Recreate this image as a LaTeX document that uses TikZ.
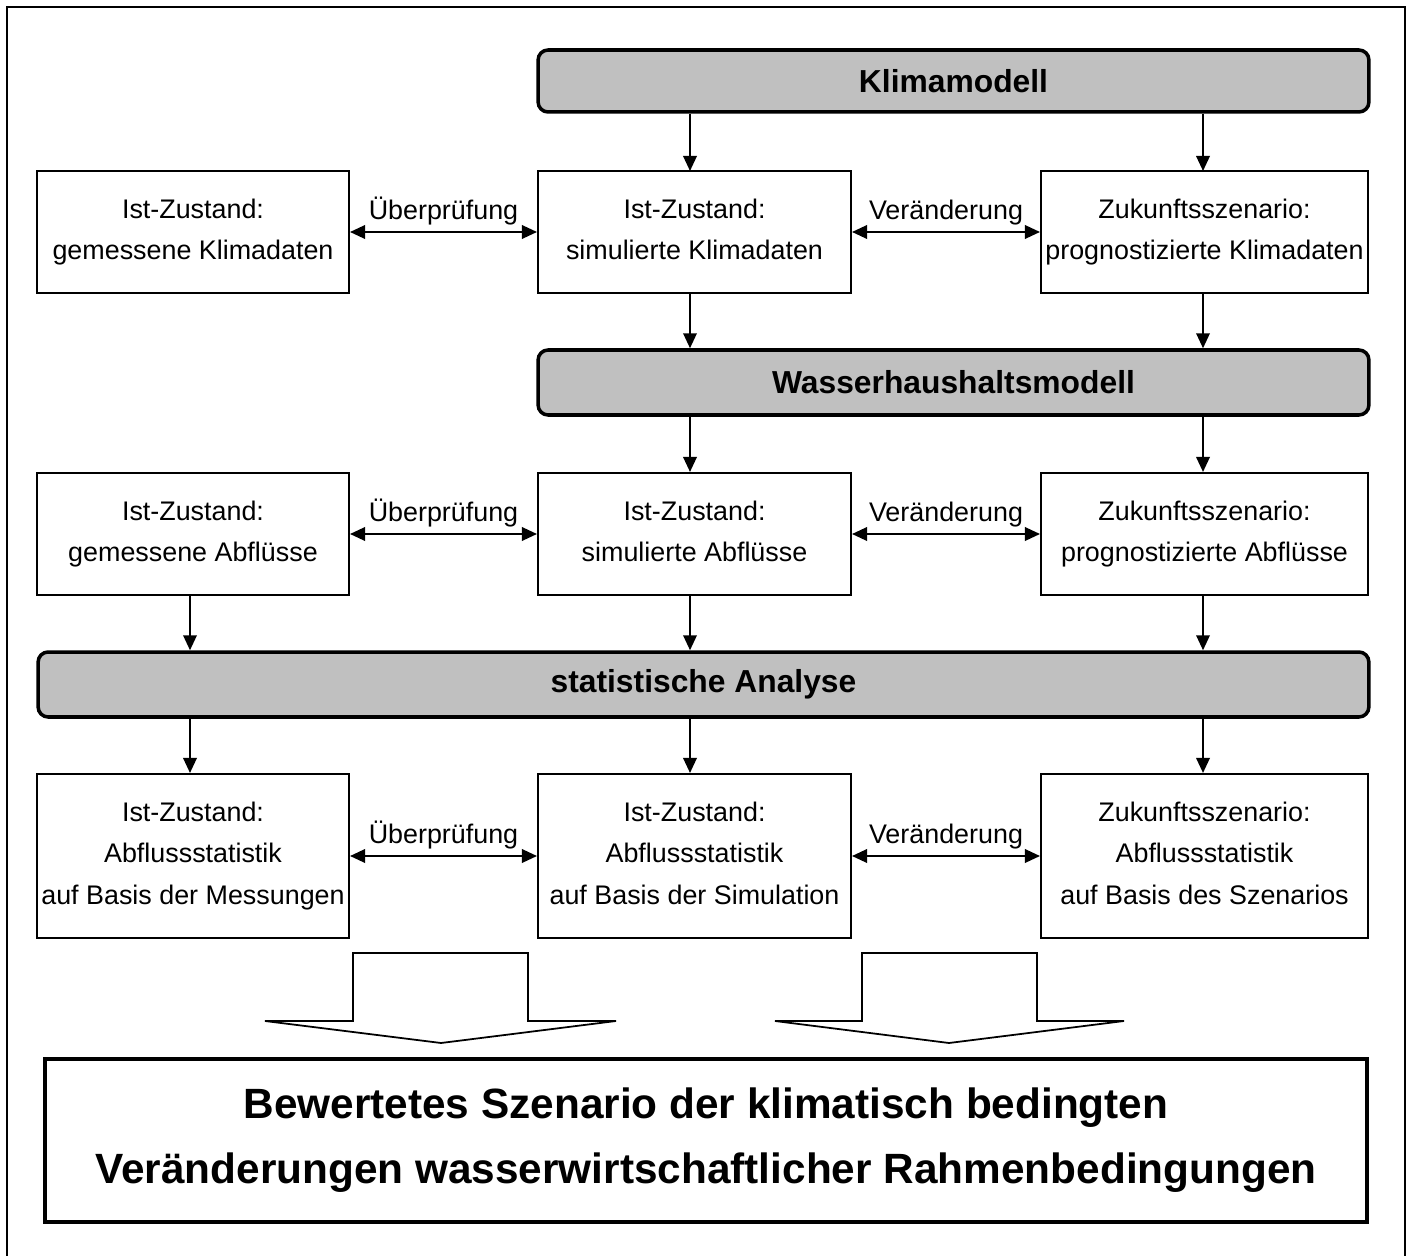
\documentclass[tikz,border=0pt]{standalone}
\usepackage{fontspec}
\setmainfont{Liberation Sans}
\usetikzlibrary{arrows.meta}
\definecolor{modelgray}{RGB}{192,192,192}

\begin{document}
\begin{tikzpicture}[>={Triangle[length=3mm,width=2.7mm]}, x=0.02cm, y=-0.02cm,
  box/.style={draw, line width=1.2pt, inner sep=0pt, align=center,
    font=\fontsize{15.3}{23.8}\selectfont},
  model/.style={draw, line width=2pt, fill=modelgray, rounded corners=0.2cm,
    inner sep=0pt, font=\fontsize{18.1}{22}\selectfont\bfseries},
  link/.style={<->, line width=1.1pt},
  feed/.style={->, line width=1.1pt},
  lbl/.style={above, font=\fontsize{15.3}{18}\selectfont},
  block/.style={line width=1pt}]

\useasboundingbox (0,0) rectangle (1412,1256);

% Rahmen
\draw[line width=1.6pt] (7,1256) -- (7,7) -- (1405,7) -- (1405,1256);

% Modelle
\node[model, minimum width=16.62cm, minimum height=1.24cm] (klima) at (953.5,81) {Klimamodell};
\node[model, minimum width=16.62cm, minimum height=1.3cm] (wasser) at (953.5,382.5) {Wasserhaushaltsmodell};
\node[model, minimum width=26.62cm, minimum height=1.3cm] (stat) at (703.5,684.5) {statistische Analyse};

% Klimadaten
\node[box, minimum width=6.24cm, minimum height=2.44cm] (k1) at (193,232) {Ist-Zustand:\\gemessene Klimadaten};
\node[box, minimum width=6.26cm, minimum height=2.44cm] (k2) at (694.5,232) {Ist-Zustand:\\simulierte Klimadaten\vphantom{g}};
\node[box, minimum width=6.54cm, minimum height=2.44cm] (k3) at (1204.5,232) {Zukunftsszenario:\\prognostizierte Klimadaten};

% Abflüsse
\node[box, minimum width=6.24cm, minimum height=2.44cm] (a1) at (193,534) {Ist-Zustand:\\gemessene Abflüsse};
\node[box, minimum width=6.26cm, minimum height=2.44cm] (a2) at (694.5,534) {Ist-Zustand:\\simulierte Abflüsse\vphantom{g}};
\node[box, minimum width=6.54cm, minimum height=2.44cm] (a3) at (1204.5,534) {Zukunftsszenario:\\prognostizierte Abflüsse};

% Statistik
\node[box, minimum width=6.24cm, minimum height=3.28cm] (s1) at (193,856) {Ist-Zustand:\\Abflussstatistik\\auf Basis der Messungen};
\node[box, minimum width=6.26cm, minimum height=3.28cm] (s2) at (694.5,856) {Ist-Zustand:\\Abflussstatistik\\auf Basis der Simulation\vphantom{g}};
\node[box, minimum width=6.54cm, minimum height=3.28cm] (s3) at (1204.5,856) {Zukunftsszenario:\\Abflussstatistik\\auf Basis des Szenarios\vphantom{g}};

% Ergebnis
\node[draw, line width=2.5pt, inner sep=0pt, align=center, minimum width=26.44cm, minimum height=3.26cm,
  font=\fontsize{24.1}{37}\selectfont\bfseries] (result) at (706,1140.5)
  {Bewertetes Szenario der klimatisch bedingten\\Veränderungen wasserwirtschaftlicher Rahmenbedingungen};

% Pfeile nach unten
\draw[feed] (klima.south -| 690,0) -- (690,171);
\draw[feed] (klima.south -| 1203,0) -- (1203,171);
\draw[feed] (k2.south -| 690,0) -- (wasser.north -| 690,0);
\draw[feed] (k3.south -| 1203,0) -- (wasser.north -| 1203,0);
\draw[feed] (wasser.south -| 690,0) -- (a2.north -| 690,0);
\draw[feed] (wasser.south -| 1203,0) -- (a3.north -| 1203,0);
\draw[feed] (a1.south -| 190,0) -- (stat.north -| 190,0);
\draw[feed] (a2.south -| 690,0) -- (stat.north -| 690,0);
\draw[feed] (a3.south -| 1203,0) -- (stat.north -| 1203,0);
\draw[feed] (stat.south -| 190,0) -- (s1.north -| 190,0);
\draw[feed] (stat.south -| 690,0) -- (s2.north -| 690,0);
\draw[feed] (stat.south -| 1203,0) -- (s3.north -| 1203,0);

% Vergleiche
\draw[link] (k1) -- (k2) node[midway, lbl] {Überprüfung};
\draw[link] (k2) -- (k3) node[midway, lbl] {Veränderung};
\draw[link] (a1) -- (a2) node[midway, lbl] {Überprüfung};
\draw[link] (a2) -- (a3) node[midway, lbl] {Veränderung};
\draw[link] (s1) -- (s2) node[midway, lbl] {Überprüfung};
\draw[link] (s2) -- (s3) node[midway, lbl] {Veränderung};

% Blockpfeile
\draw[block] (353,953) -- (528,953) -- (528,1021) -- (616,1021) -- (441,1043) -- (265,1021) -- (353,1021) -- cycle;
\draw[block] (862,953) -- (1037,953) -- (1037,1021) -- (1124,1021) -- (949,1043) -- (775,1021) -- (862,1021) -- cycle;

\end{tikzpicture}
\end{document}
